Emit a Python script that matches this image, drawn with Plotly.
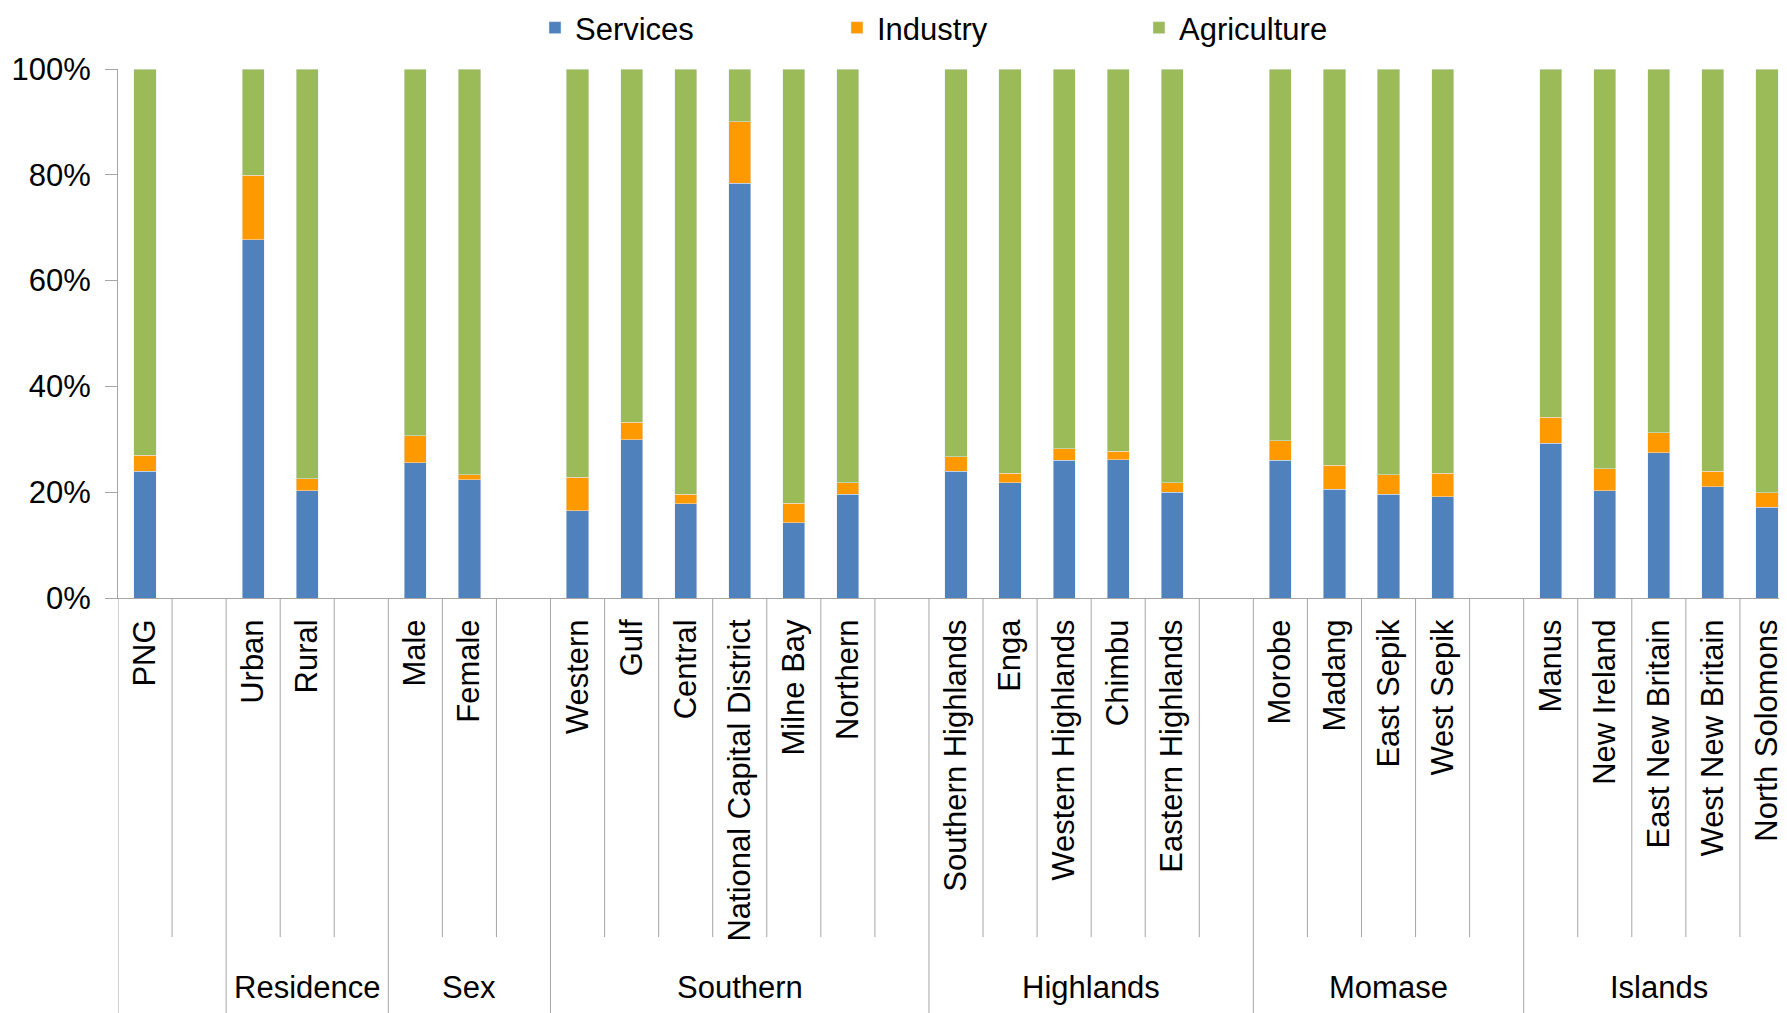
import plotly.graph_objects as go

categories = ["PNG", " ", "Urban", "Rural", "  ", "Male", "Female", "   ",
              "Western", "Gulf", "Central", "National Capital District", "Milne Bay", "Northern", "    ",
              "Southern Highlands", "Enga", "Western Highlands", "Chimbu", "Eastern Highlands", "     ",
              "Morobe", "Madang", "East Sepik", "West Sepik", "      ",
              "Manus", "New Ireland", "East New Britain", "West New Britain", "North Solomons"]

services = [24.0, None, 67.7, 20.3, None, 25.6, 22.4, None,
            16.5, 29.9, 17.8, 78.4, 14.2, 19.6, None,
            24.0, 21.8, 26.0, 26.1, 20.0, None,
            26.0, 20.6, 19.6, 19.1, None,
            29.3, 20.3, 27.5, 21.0, 17.2]
industry = [3.0, None, 12.2, 2.2, None, 5.1, 0.9, None,
            6.3, 3.3, 1.8, 11.6, 3.7, 2.2, None,
            2.7, 1.8, 2.2, 1.6, 1.8, None,
            3.7, 4.5, 3.7, 4.5, None,
            4.9, 4.1, 3.7, 3.0, 2.7]
agriculture = [73.0, None, 20.1, 77.5, None, 69.3, 76.7, None,
               77.2, 66.8, 80.4, 10.0, 82.1, 78.2, None,
               73.3, 76.4, 71.8, 72.3, 78.2, None,
               70.3, 74.9, 76.7, 76.4, None,
               65.8, 75.6, 68.8, 76.0, 80.1]

group_names = ["", "Residence", "Sex", "Southern", "Highlands", "Momase", "Islands"]
group_sizes = [2, 3, 3, 7, 6, 5, 5]

y_tickvals = [0, 20, 40, 60, 80, 100]
y_ticktext = ["0%", "20%", "40%", "60%", "80%", "100%"]

FONT = "Liberation Sans Narrow, Arial Narrow, Liberation Sans, Arial, sans-serif"
FS = 31
GRAY = "#A6A6A6"

fig = go.Figure()
fig.add_trace(go.Bar(name="Services", x=categories, y=services, marker_color="#4F81BD"))
fig.add_trace(go.Bar(name="Industry", x=categories, y=industry, marker_color="#FF9900"))
fig.add_trace(go.Bar(name="Agriculture", x=categories, y=agriculture, marker_color="#9BBB59"))

shapes = []
annotations = []
start = 0
group_starts = []
for name, size in zip(group_names, group_sizes):
    group_starts.append(start)
    annotations.append(dict(x=start - 0.5 + size / 2, y=-0.737, xref="x", yref="paper",
                            text=name, showarrow=False, xanchor="center", yanchor="middle",
                            font=dict(size=FS, family=FONT, color="#000000")))
    start += size

for i in range(len(categories) + 1):
    b = i - 0.5
    is_group = i in group_starts
    shapes.append(dict(type="line", xref="x", yref="paper", x0=b, x1=b, y0=0,
                       y1=-0.8 if is_group else -0.641,
                       line=dict(color=GRAY, width=1)))

fig.update_layout(
    barmode="stack",
    bargap=0.59,
    width=1787, height=1013,
    margin=dict(l=110, r=1, t=61, b=423, autoexpand=False),
    paper_bgcolor="white", plot_bgcolor="white",
    font=dict(family=FONT, size=FS, color="#000000"),
    legend=dict(orientation="h", x=0.2488, xanchor="left", y=1.0775, yanchor="middle",
                entrywidth=257, entrywidthmode="pixels", font=dict(size=FS), traceorder="normal"),
    shapes=shapes,
    annotations=annotations,
)
fig.update_xaxes(range=[-0.5, 30.5], showline=True, linecolor=GRAY, linewidth=1,
                 ticks="", tickangle=-90, tickfont=dict(size=FS), ticklabelstandoff=8,
                 showgrid=False, automargin=False)
fig.update_yaxes(range=[0, 100], tickmode="array", tickvals=y_tickvals, ticktext=y_ticktext,
                 ticks="outside", ticklen=12, ticklabelstandoff=8,
                 tickcolor=GRAY, showline=True, linecolor=GRAY, linewidth=1, showgrid=False,
                 zeroline=False, tickfont=dict(size=FS), automargin=False)

fig.write_html("out.html")
